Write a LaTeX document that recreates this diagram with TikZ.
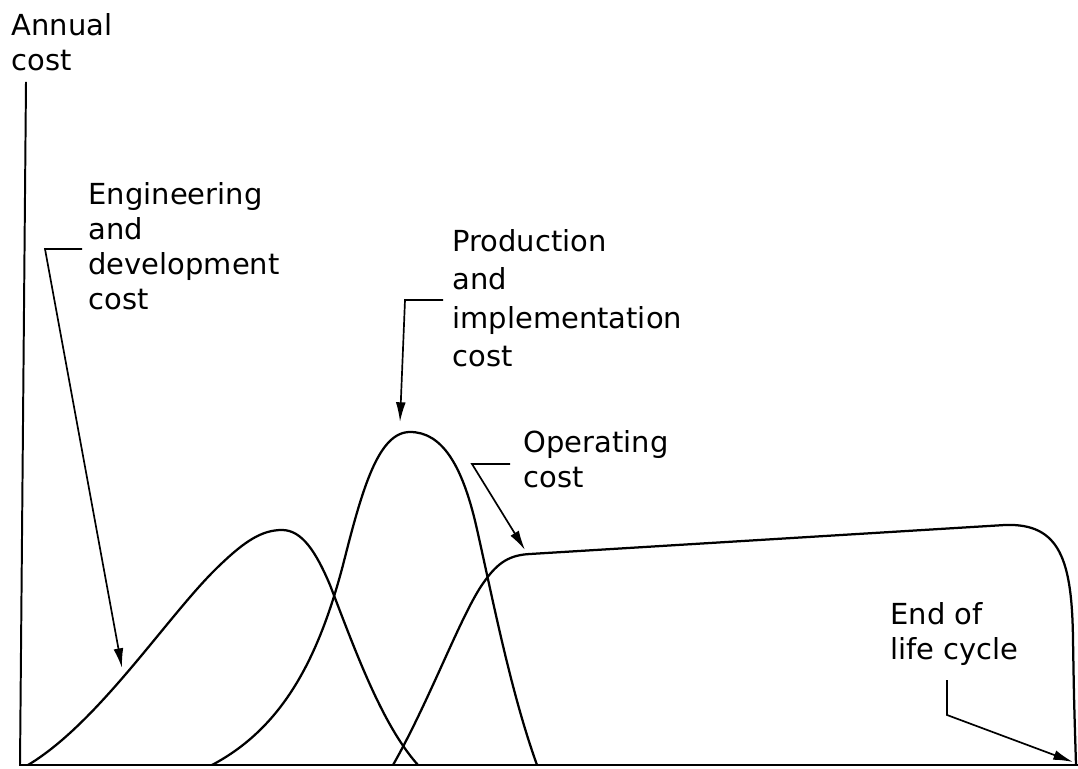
\documentclass[tikz,border=0pt]{standalone}
\usepackage{fontspec}
\setmainfont{DejaVu Sans}
\usetikzlibrary{arrows.meta}
\tikzset{
  lbl/.style={anchor=north west, inner sep=0pt, align=left, font=\fontsize{10.3}{12.4}\selectfont},
  curve/.style={line width=0.8pt},
  pointer/.style={line width=0.6pt, -{Latex[length=7pt,width=3.5pt]}},
}
\begin{document}
\begin{tikzpicture}[x=0.0125cm,y=-0.0125cm]
  \useasboundingbox (0,0) rectangle (1078,769);
  % axes
  \coordinate (top) at (26,82);
  \coordinate (origin) at (20,765);
  \coordinate (right) at (1078,765);
  \draw[line width=0.7pt] (top) -- (origin) -- (right);
  % labels
  \node[lbl] (ylabel) at (11,13) {Annual\\cost};
  \node[lbl] (eng) at (88,182) {Engineering\\and\\development\\cost};
  \node[lbl, font=\fontsize{10.3}{13.6}\selectfont] (prod) at (452,229) {Production\\and\\implementation\\cost};
  \node[lbl] (oper) at (523,430) {Operating\\cost};
  \node[lbl] (eol) at (890,602) {End of\\life cycle};
  % cost curves
  \draw[curve] (28,765) .. controls (100,722) and (170,612) .. (220,565)
    .. controls (245,541) and (262,530) .. (282,530)
    .. controls (302,530) and (316,552) .. (330,585)
    .. controls (355,650) and (382,725) .. (418,765);
  \draw[curve] (212,765) .. controls (282,728) and (318,660) .. (343,565)
    .. controls (362,490) and (378,432) .. (410,432)
    .. controls (442,432) and (462,465) .. (476,525)
    .. controls (492,595) and (510,690) .. (537,765);
  \draw[curve] (393,765) .. controls (430,700) and (462,612) .. (484,582)
    .. controls (498,562) and (510,555) .. (530,554)
    -- (1005,525) .. controls (1060,523) and (1072,560) .. (1073,640)
    .. controls (1074,700) .. (1076,765);
  % leaders
  \coordinate (engstart) at (82,249);
  \coordinate (engknee) at (45,249);
  \coordinate (engtip) at (122,668);
  \draw[pointer] (engstart) -- (engknee) -- (engtip);
  \coordinate (prodstart) at (443,300);
  \coordinate (prodknee) at (405,300);
  \coordinate (prodtip) at (400,422);
  \draw[pointer] (prodstart) -- (prodknee) -- (prodtip);
  \coordinate (operstart) at (510,464);
  \coordinate (operknee) at (472,464);
  \coordinate (opertip) at (525,550);
  \draw[pointer] (operstart) -- (operknee) -- (opertip);
  \coordinate (eolstart) at (947,680);
  \coordinate (eolknee) at (947,715);
  \coordinate (eoltip) at (1073,762);
  \draw[pointer] (eolstart) -- (eolknee) -- (eoltip);
\end{tikzpicture}
\end{document}
